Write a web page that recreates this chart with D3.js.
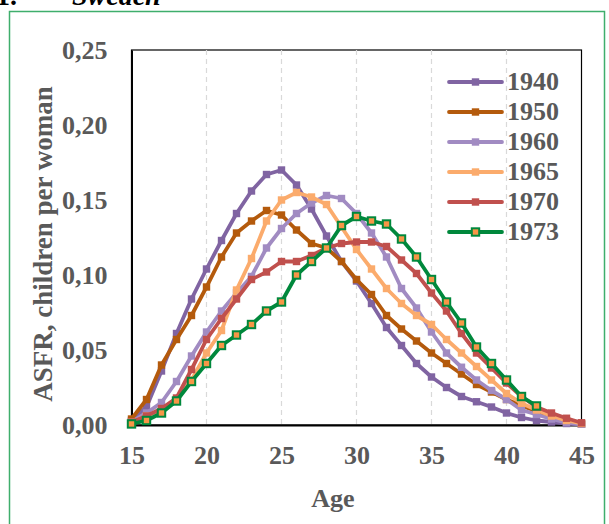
<!DOCTYPE html>
<html>
<head>
<meta charset="utf-8">
<script src="https://cdn.jsdelivr.net/npm/d3@7"></script>
<style>
  body { margin: 0; background: #fff; }
  text { font-family: "Liberation Serif", "Times New Roman", serif; font-weight: bold; }
</style>
</head>
<body>
<div id="chart"></div>
<script>
// Age-specific fertility rates, Sweden, by cohort
var ages = d3.range(15, 46);
var cohorts = ["1940", "1950", "1960", "1965", "1970", "1973"];

var asfr1940 = [0.003, 0.012, 0.036, 0.061, 0.084, 0.104, 0.123, 0.141, 0.156, 0.167, 0.170, 0.160, 0.144, 0.126, 0.109,
	0.096, 0.081, 0.065, 0.053, 0.041, 0.032, 0.025, 0.019, 0.0155, 0.012, 0.008, 0.005, 0.003, 0.002, 0.001, 0.0005];
var asfr1950 = [0.004, 0.017, 0.040, 0.057, 0.073, 0.092, 0.112, 0.128, 0.136, 0.143, 0.140, 0.130, 0.121, 0.118, 0.109,
	0.097, 0.087, 0.073, 0.064, 0.056, 0.048, 0.041, 0.034, 0.027, 0.022, 0.017, 0.013, 0.009, 0.005, 0.002, 0.0007];
var asfr1960 = [0.002, 0.008, 0.015, 0.029, 0.046, 0.062, 0.076, 0.088, 0.099, 0.118, 0.131, 0.141, 0.148, 0.153, 0.151,
	0.141, 0.128, 0.112, 0.091, 0.078, 0.062, 0.048, 0.0385, 0.030, 0.023, 0.017, 0.010, 0.007, 0.004, 0.0015, 0.0005];
var asfr1965 = [0.002, 0.006, 0.010, 0.017, 0.030, 0.048, 0.063, 0.090, 0.111, 0.136, 0.150, 0.155, 0.152, 0.147, 0.132,
	0.117, 0.104, 0.091, 0.081, 0.073, 0.067, 0.057, 0.048, 0.039, 0.030, 0.021, 0.0145, 0.010, 0.006, 0.003, 0.001];
var asfr1970 = [0.002, 0.006, 0.011, 0.018, 0.037, 0.057, 0.071, 0.084, 0.097, 0.102, 0.109, 0.109, 0.113, 0.118, 0.121,
	0.122, 0.122, 0.119, 0.110, 0.101, 0.088, 0.076, 0.061, 0.048, 0.038, 0.028, 0.019, 0.012, 0.008, 0.0045, 0.0015];
// 1973 cohort observed up to age 42
var asfr1973 = [0.0007, 0.003, 0.008, 0.016, 0.029, 0.041, 0.053, 0.060, 0.067, 0.076, 0.082, 0.100, 0.109, 0.118, 0.133,
	0.139, 0.136, 0.134, 0.124, 0.112, 0.097, 0.082, 0.068, 0.052, 0.041, 0.030, 0.019, 0.0127];

var yTicks = [0, 0.05, 0.10, 0.15, 0.20, 0.25];
var xTicks = [15, 20, 25, 30, 35, 40, 45];

var series = [
	{name: "1940", values: asfr1940, color: "#8064a2"},
	{name: "1950", values: asfr1950, color: "#b45a0c"},
	{name: "1960", values: asfr1960, color: "#a18bc2"},
	{name: "1965", values: asfr1965, color: "#fbab6c"},
	{name: "1970", values: asfr1970, color: "#c0504d"},
	{name: "1973", values: asfr1973, color: "#00883c", inner: "#f79646"}
];

var width = 609, height = 524;
var pLeft = 131.5, pRight = 581.5, pTop = 50, pBottom = 425;

var svg = d3.select("#chart").append("svg")
	.attr("width", width)
	.attr("height", height);

// outer green frame
svg.append("rect")
	.attr("x", 9.5).attr("y", 11.5)
	.attr("width", 595).attr("height", 540)
	.attr("fill", "none")
	.attr("stroke", "#3fae6c")
	.attr("stroke-width", 1.5);

// clipped heading above the frame
svg.append("text").attr("x", -4).attr("y", 5)
	.attr("font-size", 28).attr("fill", "#000").text("1.");
svg.append("text").attr("x", 72).attr("y", 5)
	.attr("font-size", 28).attr("font-style", "italic").attr("fill", "#000").text("Sweden");

var x = d3.scaleLinear().domain([15, 45]).range([pLeft, pRight]);
var y = d3.scaleLinear().domain([0, 0.25]).range([pBottom, pTop]);

// plot box
svg.append("rect")
	.attr("x", pLeft).attr("y", pTop)
	.attr("width", pRight - pLeft).attr("height", pBottom - pTop)
	.attr("fill", "none").attr("stroke", "#000").attr("stroke-width", 1.2);

// vertical dashed gridlines
svg.append("g").selectAll("line")
	.data(xTicks.slice(1, -1))
	.enter().append("line")
	.attr("x1", function(d){ return x(d) }).attr("x2", function(d){ return x(d) })
	.attr("y1", pTop).attr("y2", pBottom)
	.attr("stroke", "#d9d9d9").attr("stroke-width", 1.2)
	.attr("stroke-dasharray", "5,4");

// axes
var xAxis = svg.append("g")
	.attr("transform", "translate(0," + pBottom + ")")
	.call(d3.axisBottom(x).tickValues(xTicks).tickSize(0).tickPadding(21));
var yAxis = svg.append("g")
	.attr("transform", "translate(" + pLeft + ",0)")
	.call(d3.axisLeft(y).tickValues(yTicks).tickSize(0).tickPadding(24)
		.tickFormat(function(d){ return d3.format(".2f")(d).replace(".", ","); }));

[xAxis, yAxis].forEach(function(a){
	a.select(".domain").attr("stroke", "#000").attr("stroke-width", 2);
	a.selectAll("text")
		.attr("font-family", "Liberation Serif, serif")
		.attr("font-weight", "bold")
		.attr("font-size", 26)
		.attr("fill", "#595959");
});

// axis titles
svg.append("text")
	.attr("x", 333).attr("y", 507)
	.attr("text-anchor", "middle").attr("font-size", 26).attr("fill", "#595959")
	.text("Age");
svg.append("text")
	.attr("transform", "translate(52,244) rotate(-90)")
	.attr("text-anchor", "middle").attr("font-size", 27).attr("fill", "#595959")
	.text("ASFR, children per woman");

var line = d3.line()
	.x(function(d){ return x(d[0]) })
	.y(function(d){ return y(d[1]) });

series.forEach(function(s){
	var pts = s.values.map(function(v, i){ return [ages[i], v]; });
	var g = svg.append("g").attr("class", "series-" + s.name);
	g.append("path")
		.datum(pts)
		.attr("d", line)
		.attr("fill", "none")
		.attr("stroke", s.color)
		.attr("stroke-width", 3.8)
		.attr("stroke-linejoin", "round");
	g.selectAll("rect")
		.data(pts)
		.enter().append("rect")
		.attr("x", function(d){ return x(d[0]) - 3.7 })
		.attr("y", function(d){ return y(d[1]) - 3.7 })
		.attr("width", 7.4).attr("height", 7.4)
		.attr("fill", s.inner || s.color)
		.attr("stroke", s.inner ? s.color : "none")
		.attr("stroke-width", 2);
});

// legend
var legend = svg.append("g");
series.forEach(function(s, i){
	var ly = 82 + i * 30;
	var lg = legend.append("g");
	lg.append("line")
		.attr("x1", 449).attr("x2", 502)
		.attr("y1", ly).attr("y2", ly)
		.attr("stroke", s.color).attr("stroke-width", 3.8)
		.attr("stroke-linecap", "round");
	lg.append("rect")
		.attr("x", 471.8).attr("y", ly - 3.7)
		.attr("width", 7.4).attr("height", 7.4)
		.attr("fill", s.inner || s.color)
		.attr("stroke", s.inner ? s.color : "none")
		.attr("stroke-width", 2);
	lg.append("text")
		.attr("x", 507).attr("y", ly + 8)
		.attr("font-size", 26).attr("fill", "#595959")
		.text(s.name);
});
</script>
</body>
</html>
